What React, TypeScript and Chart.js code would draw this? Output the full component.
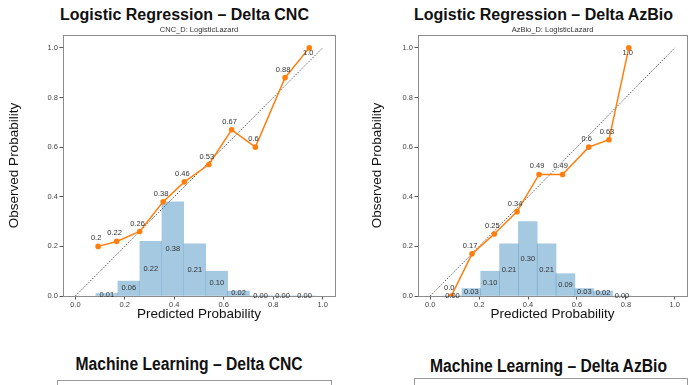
import React, { useEffect, useRef } from 'react';
import { Chart, registerables } from 'chart.js';

Chart.register(...registerables);

// ---------- data ----------
const cncPredicted = [0.092, 0.167, 0.26, 0.355, 0.441, 0.54, 0.632, 0.728, 0.848, 0.946];
const cncObserved = [0.2, 0.22, 0.26, 0.38, 0.46, 0.53, 0.67, 0.6, 0.88, 1.0];
const cncBinCenters = [0.127, 0.216, 0.305, 0.394, 0.483, 0.572, 0.66, 0.749, 0.838, 0.927];
const cncBinShares = [0.01, 0.06, 0.22, 0.38, 0.21, 0.1, 0.02, 0.0, 0.0, 0.0];

const azPredicted = [0.086, 0.171, 0.262, 0.355, 0.445, 0.541, 0.648, 0.731, 0.812];
const azObserved = [0.0, 0.17, 0.25, 0.34, 0.49, 0.49, 0.6, 0.63, 1.0];
const azBinCenters = [0.091, 0.168, 0.245, 0.322, 0.399, 0.476, 0.553, 0.63, 0.707, 0.784];
const azBinShares = [0.0, 0.03, 0.1, 0.21, 0.3, 0.21, 0.09, 0.03, 0.02, 0.0];

const diagonal = [0, 1];
const tickValues = [0, 0.2, 0.4, 0.6, 0.8, 1.0];

const mainTitles = ['Logistic Regression \u2013 Delta CNC', 'Logistic Regression \u2013 Delta AzBio'];
const subTitles = ['CNC_D: LogisticLazard', 'AzBio_D: LogisticLazard'];
const bottomTitles = ['Machine Learning \u2013 Delta CNC', 'Machine Learning \u2013 Delta AzBio'];
const xTitle = 'Predicted Probability';
const yTitle = 'Observed Probability';

// ---------- styles ----------
const ORANGE = '#ff7f0e';
const BLUE = 'rgba(31,119,180,0.4)';
const FONT = '"Liberation Sans", Arial, sans-serif';
const SMALL = 7.5;

const fmtPoint = (v: number) => {
  const r = Math.round(v * 100) / 100;
  const s = String(r);
  return s.includes('.') ? s : s + '.0';
};

const framePlugin = {
  id: 'frame',
  afterDatasetsDraw(chart: any) {
    const { ctx, chartArea: a } = chart;
    ctx.save();
    ctx.strokeStyle = '#8c8c8c';
    ctx.lineWidth = 1;
    ctx.strokeRect(Math.round(a.left) + 0.5, Math.round(a.top) + 0.5, Math.round(a.right - a.left), Math.round(a.bottom - a.top));
    ctx.restore();
  },
};

const labelPlugin = {
  id: 'valueLabels',
  afterDatasetsDraw(chart: any) {
    const { ctx } = chart;
    ctx.save();
    ctx.font = `${SMALL}px ${FONT}`;
    ctx.fillStyle = '#333';
    ctx.textAlign = 'center';
    ctx.textBaseline = 'middle';
    // bars
    const barMeta = chart.getDatasetMeta(1);
    const barData = chart.data.datasets[1].data as any[];
    barMeta.data.forEach((el: any, i: number) => {
      const y = (el.y + el.base) / 2;
      ctx.fillText(barData[i].y.toFixed(2), el.x, y);
    });
    // points
    const ptMeta = chart.getDatasetMeta(0);
    const ptData = chart.data.datasets[0].data as any[];
    ptMeta.data.forEach((el: any, i: number) => {
      const v = ptData[i].y;
      if (v >= 0.995) ctx.fillText(fmtPoint(v), el.x - 1, el.y + 5);
      else ctx.fillText(fmtPoint(v), el.x - 2, el.y - 8);
    });
    ctx.restore();
  },
};

type Panel = {
  pred: number[];
  obs: number[];
  centers: number[];
  shares: number[];
  sub: string;
  yAxisWidth: number;
  rightPad: number;
  yTitlePad: number;
};

function CalibrationChart({ p, style }: { p: Panel; style: React.CSSProperties }) {
  const ref = useRef<HTMLCanvasElement>(null);
  useEffect(() => {
    if (!ref.current) return;
    const chart = new Chart(ref.current, {
      type: 'bar',
      data: {
        datasets: [
          {
            type: 'line',
            label: 'calibration',
            data: p.pred.map((x, i) => ({ x, y: p.obs[i] })),
            borderColor: ORANGE,
            backgroundColor: ORANGE,
            borderWidth: 1.5,
            pointRadius: 2.8,
            pointBorderWidth: 0,
            tension: 0,
            order: 0,
          } as any,
          {
            type: 'bar',
            label: 'share',
            data: p.centers.map((x, i) => ({ x, y: p.shares[i] })),
            backgroundColor: BLUE,
            borderWidth: 0,
            barPercentage: 1,
            categoryPercentage: 1,
            order: 1,
          } as any,
          {
            type: 'line',
            label: 'ideal',
            data: diagonal.map((v) => ({ x: v, y: v })),
            borderColor: 'rgba(0,0,0,0.65)',
            borderWidth: 1,
            borderDash: [1.5, 1.5],
            pointRadius: 0,
            order: 2,
          } as any,
        ],
      },
      options: {
        animation: false,
        responsive: false,
        maintainAspectRatio: false,
        events: [],
        layout: { padding: { left: 0, right: p.rightPad, top: 24, bottom: 0 } },
        plugins: {
          legend: { display: false },
          tooltip: { enabled: false },
          title: {
            display: true,
            text: p.sub,
            fullSize: false,
            color: '#333',
            font: { family: FONT, size: SMALL, weight: 'normal' },
            padding: { top: 1, bottom: 1 },
          },
        },
        scales: {
          x: {
            type: 'linear',
            min: -0.05,
            max: 1.05,
            offset: false,
            afterBuildTicks: (s: any) => {
              s.ticks = tickValues.map((v) => ({ value: v }));
            },
            afterFit: (s: any) => {
              s.height = 34;
            },
            ticks: {
              color: '#444',
              font: { family: FONT, size: SMALL },
              padding: 1,
              maxRotation: 0,
              callback: (v: any) => Number(v).toFixed(1),
            },
            grid: { display: true, drawOnChartArea: false, drawTicks: true, tickLength: 3.5, color: '#555', offset: false },
            border: { display: false },
            title: {
              display: true,
              text: xTitle,
              color: '#111',
              font: { family: FONT, size: 13.5 },
              padding: { top: 0, bottom: 8 },
            },
          },
          y: {
            type: 'linear',
            min: 0,
            max: 1.052,
            afterBuildTicks: (s: any) => {
              s.ticks = tickValues.map((v) => ({ value: v }));
            },
            afterFit: (s: any) => {
              s.width = p.yAxisWidth;
            },
            ticks: {
              color: '#444',
              font: { family: FONT, size: SMALL },
              padding: 1.5,
              callback: (v: any) => Number(v).toFixed(1),
            },
            grid: { display: true, drawOnChartArea: false, drawTicks: true, tickLength: 3.5, color: '#555' },
            border: { display: false },
            title: {
              display: true,
              text: yTitle,
              color: '#111',
              font: { family: FONT, size: 13.5 },
              padding: { top: p.yTitlePad, bottom: 0 },
            },
          },
        },
      } as any,
      plugins: [framePlugin, labelPlugin],
    });
    return () => chart.destroy();
  }, []);
  return <canvas ref={ref} width={348} height={330} style={{ position: 'absolute', width: 348, height: 330, ...style }} />;
}

const panels: Panel[] = [
  { pred: cncPredicted, obs: cncObserved, centers: cncBinCenters, shares: cncBinShares, sub: subTitles[0], yAxisWidth: 63, rightPad: 13, yTitlePad: 6 },
  { pred: azPredicted, obs: azObserved, centers: azBinCenters, shares: azBinShares, sub: subTitles[1], yAxisWidth: 70, rightPad: 9, yTitlePad: 21 },
];

export default function App() {
  const titleStyle: React.CSSProperties = {
    position: 'absolute',
    top: 7,
    fontFamily: FONT,
    fontWeight: 'bold',
    fontSize: 16,
    lineHeight: '16px',
    textAlign: 'center',
    color: '#111',
    whiteSpace: 'nowrap',
  };
  const bottomStyle: React.CSSProperties = {
    position: 'absolute',
    fontFamily: FONT,
    fontWeight: 'bold',
    fontSize: 18,
    lineHeight: '18px',
    textAlign: 'center',
    color: '#111',
    whiteSpace: 'nowrap',
    transform: 'scaleX(0.87)',
    transformOrigin: 'center',
  };
  return (
    <div style={{ position: 'fixed', left: 0, top: 0, width: 696, height: 385, background: '#fff', overflow: 'hidden' }}>
      <div style={{ ...titleStyle, left: 0, width: 369 }}>{mainTitles[0]}</div>
      <div style={{ ...titleStyle, left: 391, width: 305 }}>{mainTitles[1]}</div>
      <CalibrationChart p={panels[0]} style={{ left: 0, top: 0 }} />
      <CalibrationChart p={panels[1]} style={{ left: 348, top: 0 }} />
      <div style={{ ...bottomStyle, left: 0, width: 378, top: 355 }}>{bottomTitles[0]}</div>
      <div style={{ ...bottomStyle, left: 401, width: 295, top: 357 }}>{bottomTitles[1]}</div>
      <div style={{ position: 'absolute', left: 57, top: 380, width: 273, height: 30, border: '1px solid #999' }} />
      <div style={{ position: 'absolute', left: 414, top: 378, width: 272, height: 30, border: '1px solid #999' }} />
    </div>
  );
}
